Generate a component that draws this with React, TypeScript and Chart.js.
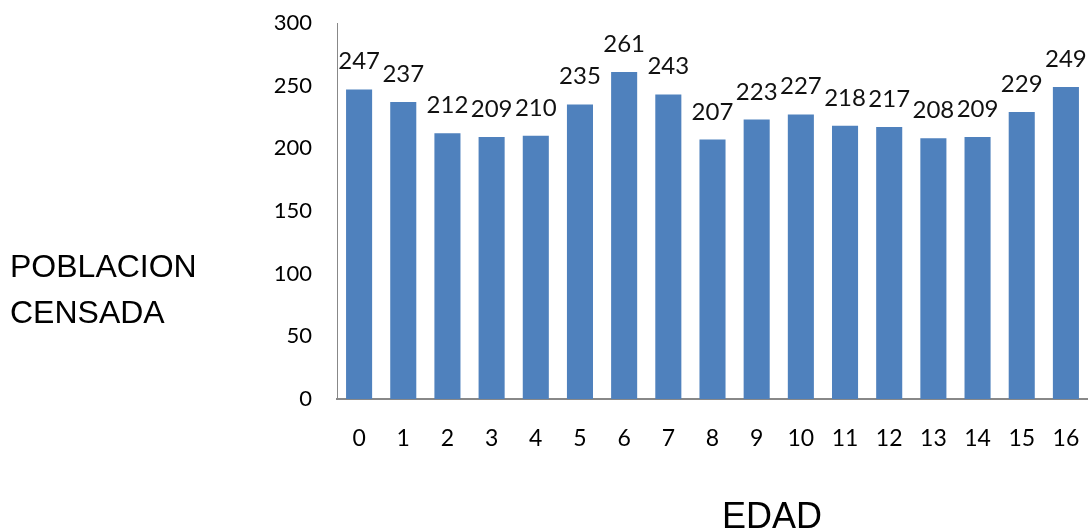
import React, { useEffect, useRef } from "react";
import { Chart, registerables } from "chart.js";

Chart.register(...registerables);

const categories: string[] = ["0", "1", "2", "3", "4", "5", "6", "7", "8", "9", "10", "11", "12", "13", "14", "15", "16"];
const poblacion: number[] = [247, 237, 212, 209, 210, 235, 261, 243, 207, 223, 227, 218, 217, 208, 209, 229, 249];
const yTitleLines: string[] = ["POBLACION", "CENSADA"];
const xTitle = "EDAD";

const W = 1088;
const H = 531;

const labelsPlugin = {
  id: "valueLabels",
  afterDatasetsDraw(chart: any) {
    const ctx = chart.ctx;
    const meta = chart.getDatasetMeta(0);
    const data = chart.data.datasets[0].data as number[];
    ctx.save();
    ctx.font = "24px Lato, 'Open Sans', sans-serif";
    ctx.fillStyle = "#111";
    ctx.textAlign = "center";
    ctx.textBaseline = "alphabetic";
    meta.data.forEach((bar: any, i: number) => {
      ctx.fillText(String(data[i]), bar.x, bar.y - 20);
    });
    ctx.restore();
  },
};

const titlesPlugin = {
  id: "titles",
  afterDraw(chart: any) {
    const ctx = chart.ctx;
    ctx.save();
    ctx.fillStyle = "#000";
    ctx.textBaseline = "alphabetic";
    ctx.textAlign = "left";
    ctx.font = "32px 'Liberation Sans', Arial, sans-serif";
    ctx.fillText(yTitleLines[0], 10, 277);
    ctx.fillText(yTitleLines[1], 10, 323);
    ctx.textAlign = "center";
    ctx.font = "36px 'Liberation Sans', Arial, sans-serif";
    ctx.fillText(xTitle, 772, 528);
    ctx.restore();
  },
};

export default function App() {
  const ref = useRef<HTMLCanvasElement | null>(null);

  useEffect(() => {
    if (!ref.current) return;
    const chart = new Chart(ref.current, {
      type: "bar",
      data: {
        labels: categories,
        datasets: [
          {
            data: poblacion,
            backgroundColor: "#4F81BD",
            borderWidth: 0,
            barPercentage: 0.59,
            categoryPercentage: 1,
          },
        ],
      },
      options: {
        responsive: false,
        animation: false,
        devicePixelRatio: 1,
        layout: { padding: { top: 23, right: 0, left: 0, bottom: 0 } },
        plugins: {
          legend: { display: false },
          tooltip: { enabled: false },
          title: { display: false },
        },
        scales: {
          x: {
            grid: { display: false, drawTicks: false },
            border: { display: true, color: "#888888", width: 2 },
            ticks: {
              color: "#000",
              font: { family: "Lato, 'Open Sans', sans-serif", size: 23 },
              padding: 26,
              maxRotation: 0,
              autoSkip: false,
            },
            afterFit: (scale: any) => {
              scale.height = H - 399;
              scale.paddingLeft = 0;
              scale.paddingRight = 0;
            },
          },
          y: {
            min: 0,
            max: 300,
            grid: { display: false, drawTicks: false },
            border: { display: true, color: "#888888", width: 1 },
            ticks: {
              stepSize: 50,
              color: "#000",
              font: { family: "Lato, 'Open Sans', sans-serif", size: 22 },
              padding: 25,
            },
            afterFit: (scale: any) => {
              scale.width = 337;
              scale.paddingTop = 0;
              scale.paddingBottom = 0;
            },
          },
        },
      },
      plugins: [labelsPlugin, titlesPlugin],
    });
    return () => chart.destroy();
  }, []);

  return (
    <div style={{ position: "absolute", left: 0, top: 0, width: W, height: H, background: "#fff" }}>
      <canvas ref={ref} width={W} height={H} style={{ width: W, height: H, display: "block" }} />
    </div>
  );
}
